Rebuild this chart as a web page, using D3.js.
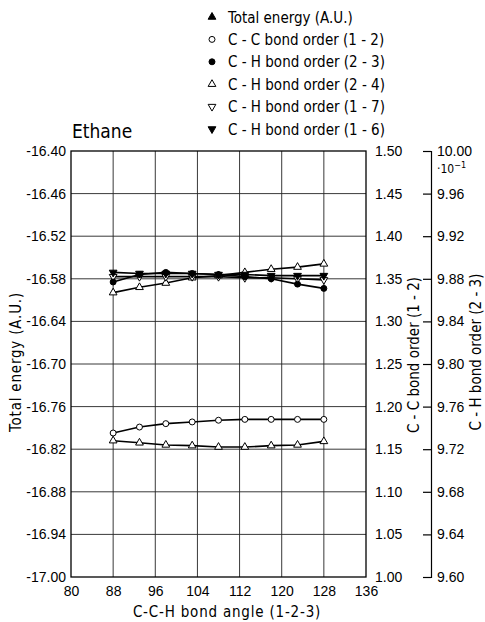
<!DOCTYPE html>
<html>
<head>
<meta charset="utf-8">
<script src="https://cdn.jsdelivr.net/npm/d3@7"></script>
<style>
  body { margin: 0; background: #fff; }
  svg { font-family: "DejaVu Sans Condensed", "DejaVu Sans", sans-serif; font-stretch: condensed; }
  .axis path, .axis line { stroke: #000; }
  .axis text { font-size: 14px; fill: #000; }
</style>
</head>
<body>
<svg id="viz" width="485" height="622"></svg>
<script>
// ----- data -----
const angles = [88, 93, 98, 103, 108, 113, 118, 123, 128];
const energy = [-16.808, -16.811, -16.814, -16.815, -16.817, -16.817, -16.815, -16.814, -16.809];
const ccOrder12 = [1.169, 1.176, 1.180, 1.182, 1.184, 1.185, 1.185, 1.185, 1.185];
const chOrder23 = [9.877, 9.884, 9.886, 9.885, 9.884, 9.882, 9.880, 9.875, 9.871];
const chOrder24 = [9.867, 9.872, 9.876, 9.881, 9.883, 9.886, 9.889, 9.891, 9.894];
const chOrder17 = [9.882, 9.882, 9.882, 9.882, 9.882, 9.881, 9.881, 9.880, 9.879];
const chOrder16 = [9.886, 9.885, 9.885, 9.885, 9.884, 9.884, 9.883, 9.883, 9.883];

const xTicks = [80, 88, 96, 104, 112, 120, 128, 136];
const energyTicks = [-16.40, -16.46, -16.52, -16.58, -16.64, -16.70, -16.76, -16.82, -16.88, -16.94, -17.00];
const ccTicks = [1.00, 1.05, 1.10, 1.15, 1.20, 1.25, 1.30, 1.35, 1.40, 1.45, 1.50];
const chTicks = [9.60, 9.64, 9.68, 9.72, 9.76, 9.80, 9.84, 9.88, 9.92, 9.96, 10.00];

const legendLabels = [
  "Total energy (A.U.)",
  "C - C  bond order (1 - 2)",
  "C - H  bond order (2 - 3)",
  "C - H  bond order (2 - 4)",
  "C - H  bond order (1 - 7)",
  "C - H  bond order (1 - 6)"
];

// ----- layout -----
const svg = d3.select("#viz");
const L = 71, R = 366, T = 151, B = 577;
const chAxisX = 431;

const x = d3.scaleLinear().domain([80, 136]).range([L, R]);
const yE = d3.scaleLinear().domain([-17, -16.4]).range([B, T]);
const yCC = d3.scaleLinear().domain([1, 1.5]).range([B, T]);
const yCH = d3.scaleLinear().domain([9.6, 10]).range([B, T]);

// marker shapes
const sym = {
  triUp:   d3.symbol().type(d3.symbolTriangle).size(26)(),
  circle:  d3.symbol().type(d3.symbolCircle).size(28)()
};

// series: which scale, which marker, filled or not
const series = [
  { vals: energy,    y: yE,  shape: "triUp",  fill: "#fff", rot: 0 },
  { vals: ccOrder12, y: yCC, shape: "circle", fill: "#fff", rot: 0 },
  { vals: chOrder24, y: yCH, shape: "triUp",  fill: "#fff", rot: 0 },
  { vals: chOrder17, y: yCH, shape: "triUp",  fill: "#fff", rot: 180 },
  { vals: chOrder16, y: yCH, shape: "triUp",  fill: "#000", rot: 180 },
  { vals: chOrder23, y: yCH, shape: "circle", fill: "#000", rot: 0 }
];

// grid
const grid = svg.append("g").attr("stroke", "#222").attr("stroke-width", 0.9);
grid.selectAll(".gx").data(xTicks.slice(1, -1)).join("line")
  .attr("x1", d => x(d)).attr("x2", d => x(d)).attr("y1", T).attr("y2", B);
grid.selectAll(".gy").data(energyTicks.slice(1, -1)).join("line")
  .attr("x1", L).attr("x2", R).attr("y1", d => yE(d)).attr("y2", d => yE(d));

svg.append("rect").attr("x", L).attr("y", T).attr("width", R - L).attr("height", B - T)
  .attr("fill", "none").attr("stroke", "#000").attr("stroke-width", 1.3);

// axes
const fmt2 = d => d.toFixed(2);

svg.append("g").attr("class", "axis")
  .attr("transform", `translate(${L},0)`)
  .call(d3.axisLeft(yE).tickValues(energyTicks).tickFormat(fmt2).tickSize(0).tickPadding(5))
  .call(g => g.select(".domain").remove());

svg.append("g").attr("class", "axis")
  .attr("transform", `translate(${R},0)`)
  .call(d3.axisRight(yCC).tickValues(ccTicks).tickFormat(fmt2).tickSize(0).tickPadding(9))
  .call(g => g.select(".domain").remove());

svg.append("g").attr("class", "axis")
  .attr("transform", `translate(0,${B})`)
  .call(d3.axisBottom(x).tickValues(xTicks).tickFormat(d3.format("d")).tickSize(0).tickPadding(9))
  .call(g => g.select(".domain").remove());

svg.append("g").attr("class", "axis")
  .attr("transform", `translate(${chAxisX},0)`)
  .call(d3.axisRight(yCH).tickValues(chTicks).tickFormat(fmt2).tickSizeInner(-8).tickSizeOuter(-8).tickPadding(6))
  .call(g => g.selectAll("path, line").attr("stroke-width", 1.2));

// multiplier under 10.00
svg.append("text").attr("x", 437).attr("y", 173).attr("font-size", 12)
  .text("·10").append("tspan").attr("dy", -5).attr("font-size", 9).text("−1");

// axis titles
svg.append("text").attr("transform", `translate(21,362) rotate(-90)`)
  .attr("text-anchor", "middle").attr("font-size", 15).attr("letter-spacing", 0.8)
  .text("Total energy (A.U.)");
svg.append("text").attr("transform", `translate(419,355) rotate(-90)`)
  .attr("text-anchor", "middle").attr("font-size", 15).text("C - C  bond order (1 - 2)");
svg.append("text").attr("transform", `translate(481,352) rotate(-90)`)
  .attr("text-anchor", "middle").attr("font-size", 15).text("C - H  bond order (2 - 3)");
svg.append("text").attr("x", 227).attr("y", 617)
  .attr("text-anchor", "middle").attr("font-size", 15).attr("letter-spacing", 0.8)
  .text("C-C-H  bond angle (1-2-3)");

svg.append("text").attr("x", 72).attr("y", 138).attr("font-size", 19).text("Ethane");

// lines + markers
const line = d3.line();
series.forEach(s => {
  const pts = angles.map((a, i) => [x(a), s.y(s.vals[i])]);
  svg.append("path").attr("d", line(pts))
    .attr("fill", "none").attr("stroke", "#000").attr("stroke-width", 1.6);
  svg.append("g").selectAll("path").data(pts).join("path")
    .attr("d", sym[s.shape])
    .attr("transform", d => `translate(${d[0]},${d[1]}) rotate(${s.rot})`)
    .attr("fill", s.fill).attr("stroke", "#000").attr("stroke-width", 1);
});

// legend
const legendMarks = [
  { shape: "triUp", fill: "#000", rot: 0 },
  { shape: "circle", fill: "#fff", rot: 0 },
  { shape: "circle", fill: "#000", rot: 0 },
  { shape: "triUp", fill: "#fff", rot: 0 },
  { shape: "triUp", fill: "#fff", rot: 180 },
  { shape: "triUp", fill: "#000", rot: 180 }
];
const leg = svg.append("g");
legendLabels.forEach((lab, i) => {
  const cy = 17 + i * 22.4;
  leg.append("path").attr("d", sym[legendMarks[i].shape])
    .attr("transform", `translate(212,${cy}) rotate(${legendMarks[i].rot})`)
    .attr("fill", legendMarks[i].fill).attr("stroke", "#000").attr("stroke-width", 1);
  leg.append("text").attr("x", 228).attr("y", cy + 5.5).attr("font-size", 15).text(lab);
});
</script>
</body>
</html>
